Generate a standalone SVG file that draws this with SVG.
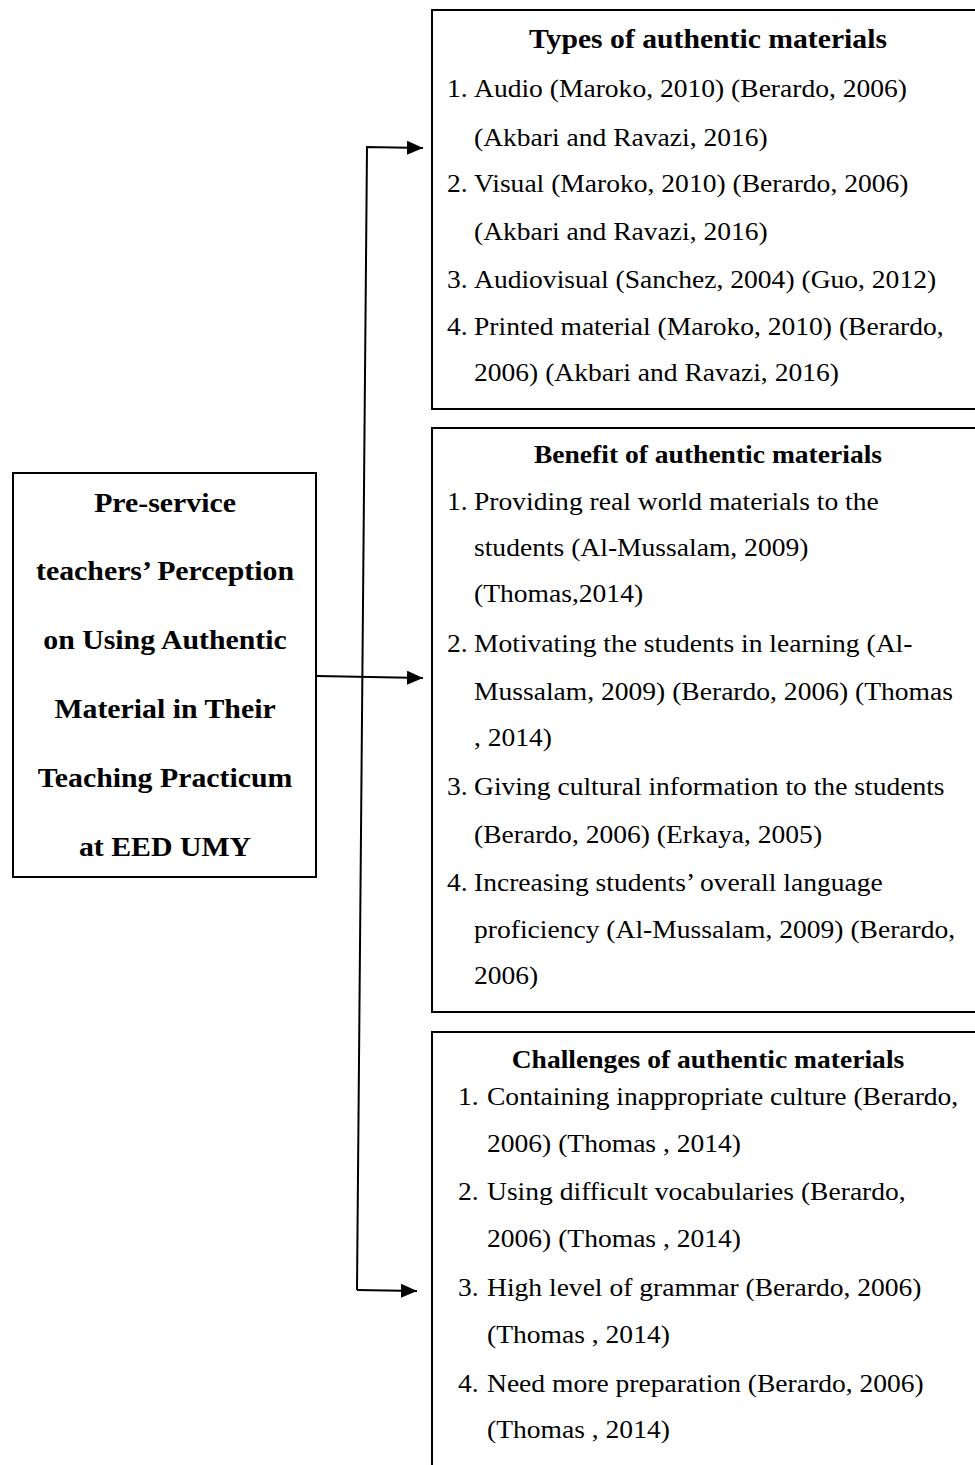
<svg xmlns="http://www.w3.org/2000/svg" width="975" height="1465" viewBox="0 0 975 1465">
<style>
.box{fill:#fff;stroke:#000;stroke-width:2}
.t{font-family:"Liberation Serif","Times New Roman",serif;font-size:26px;fill:#000}
.h{font-family:"Liberation Serif","Times New Roman",serif;font-size:26px;font-weight:bold;fill:#000;text-anchor:middle}
.h1{font-size:28px}
.m{font-family:"Liberation Serif","Times New Roman",serif;font-size:28px;font-weight:bold;fill:#000;text-anchor:middle}
.c{fill:none;stroke:#000;stroke-width:2}
</style>
<defs>
<marker id="ah" markerWidth="8" markerHeight="7" refX="8" refY="3.5" orient="auto" markerUnits="strokeWidth">
<path d="M0,0 L8,3.5 L0,7 Z" fill="#000"/>
</marker>
</defs>
<rect width="975" height="1465" fill="#fff"/>
<g id="main">
<rect class="box" x="13" y="473" width="303" height="404"/>
<g transform="matrix(1.065 0 0 1 -10.7 0)">
<text class="m" x="165" y="512">Pre-service</text>
<text class="m" x="165" y="580">teachers’ Perception</text>
<text class="m" x="165" y="649">on Using Authentic</text>
<text class="m" x="165" y="718">Material in Their</text>
<text class="m" x="165" y="787">Teaching Practicum</text>
<text class="m" x="165" y="856">at EED UMY</text>
</g>
</g>
<g id="types">
<rect class="box" x="432" y="10" width="560" height="399"/>
<g transform="matrix(1.06 0 0 1 -42.48 0)">
<text class="h h1" x="708" y="48">Types of authentic materials</text>
</g>
<g transform="matrix(1.06 0 0 1 -28.44 0)">
<text class="t" x="448.5" y="97">1.</text><text class="t" x="474" y="97">Audio (Maroko, 2010) (Berardo, 2006)</text>
<text class="t" x="474" y="146">(Akbari and Ravazi, 2016)</text>
<text class="t" x="448.5" y="192">2.</text><text class="t" x="474" y="192">Visual (Maroko, 2010) (Berardo, 2006)</text>
<text class="t" x="474" y="240">(Akbari and Ravazi, 2016)</text>
<text class="t" x="448.5" y="288">3.</text><text class="t" x="474" y="288">Audiovisual (Sanchez, 2004) (Guo, 2012)</text>
<text class="t" x="448.5" y="335">4.</text><text class="t" x="474" y="335">Printed material (Maroko, 2010) (Berardo,</text>
<text class="t" x="474" y="381">2006) (Akbari and Ravazi, 2016)</text>
</g>
</g>
<g id="benefit">
<rect class="box" x="432" y="428" width="560" height="584"/>
<g transform="matrix(1.06 0 0 1 -42.48 0)">
<text class="h" x="708" y="463">Benefit of authentic materials</text>
</g>
<g transform="matrix(1.06 0 0 1 -28.44 0)">
<text class="t" x="448.5" y="510">1.</text><text class="t" x="474" y="510">Providing real world materials to the</text>
<text class="t" x="474" y="556">students (Al-Mussalam, 2009)</text>
<text class="t" x="474" y="602">(Thomas,2014)</text>
<text class="t" x="448.5" y="652">2.</text><text class="t" x="474" y="652">Motivating the students in learning (Al-</text>
<text class="t" x="474" y="700">Mussalam, 2009) (Berardo, 2006) (Thomas</text>
<text class="t" x="474" y="746">, 2014)</text>
<text class="t" x="448.5" y="795">3.</text><text class="t" x="474" y="795">Giving cultural information to the students</text>
<text class="t" x="474" y="843">(Berardo, 2006) (Erkaya, 2005)</text>
<text class="t" x="448.5" y="891">4.</text><text class="t" x="474" y="891">Increasing students’ overall language</text>
<text class="t" x="474" y="938">proficiency (Al-Mussalam, 2009) (Berardo,</text>
<text class="t" x="474" y="984">2006)</text>
</g>
</g>
<g id="challenges">
<rect class="box" x="432" y="1032" width="560" height="460"/>
<g transform="matrix(1.06 0 0 1 -42.48 0)">
<text class="h" x="708" y="1068">Challenges of authentic materials</text>
</g>
<g transform="matrix(1.06 0 0 1 -29.22 0)">
<text class="t" x="459.6" y="1105">1.</text><text class="t" x="487" y="1105">Containing inappropriate culture (Berardo,</text>
<text class="t" x="487" y="1152">2006) (Thomas , 2014)</text>
<text class="t" x="459.6" y="1200">2.</text><text class="t" x="487" y="1200">Using difficult vocabularies (Berardo,</text>
<text class="t" x="487" y="1247">2006) (Thomas , 2014)</text>
<text class="t" x="459.6" y="1296">3.</text><text class="t" x="487" y="1296">High level of grammar (Berardo, 2006)</text>
<text class="t" x="487" y="1343">(Thomas , 2014)</text>
<text class="t" x="459.6" y="1392">4.</text><text class="t" x="487" y="1392">Need more preparation (Berardo, 2006)</text>
<text class="t" x="487" y="1438">(Thomas , 2014)</text>
</g>
</g>
<g id="connectors">
<path class="c" d="M357,1290 L367,147 L423,148" marker-end="url(#ah)"/>
<path class="c" d="M317,676 L423,678" marker-end="url(#ah)"/>
<path class="c" d="M357,1290 L417,1291" marker-end="url(#ah)"/>
</g>
</svg>
